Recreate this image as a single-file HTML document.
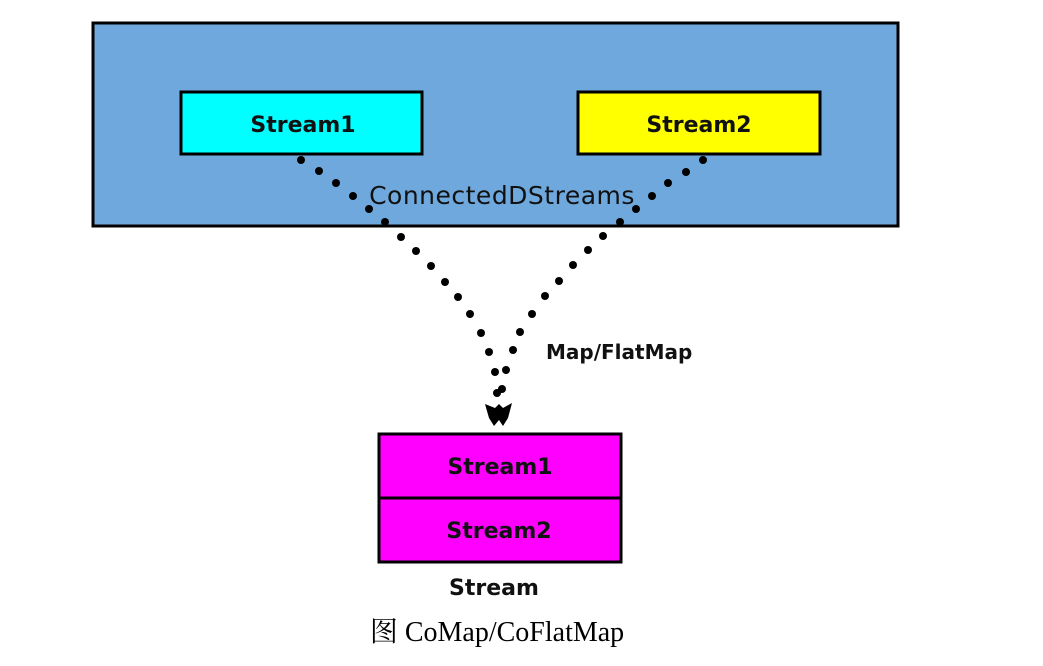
<!DOCTYPE html>
<html><head><style>html,body{margin:0;padding:0;background:#fff;}svg{display:block}</style></head>
<body>
<svg width="1043" height="666" viewBox="0 0 1043 666" xmlns="http://www.w3.org/2000/svg">
<rect x="93" y="23" width="805" height="203" fill="#6fa8dc" stroke="#000" stroke-width="3"/>
<rect x="181" y="92" width="241" height="62" fill="#00ffff" stroke="#000" stroke-width="3"/>
<rect x="578" y="92" width="242" height="62" fill="#ffff00" stroke="#000" stroke-width="3"/>
<g font-family="'DejaVu Sans','Liberation Sans',sans-serif" font-weight="bold" font-size="22" fill="#111" text-anchor="middle">
<text x="303" y="132">Stream1</text>
<text x="699" y="132">Stream2</text>
</g>
<text x="502" y="204" font-family="'DejaVu Sans','Liberation Sans',sans-serif" font-size="25" letter-spacing="0.5" fill="#111" text-anchor="middle">ConnectedDStreams</text>
<g fill="#000">
<circle cx="301" cy="160" r="4"/><circle cx="319" cy="171" r="4"/><circle cx="336" cy="183" r="4"/><circle cx="353" cy="196" r="4"/><circle cx="369" cy="209" r="4"/><circle cx="385" cy="222" r="4"/><circle cx="401" cy="237" r="4"/><circle cx="416" cy="251" r="4"/><circle cx="431" cy="266" r="4"/><circle cx="445" cy="282" r="4"/><circle cx="458" cy="297" r="4"/><circle cx="470" cy="314" r="4"/><circle cx="481" cy="333" r="4"/><circle cx="489" cy="352" r="4"/><circle cx="495" cy="372" r="4"/><circle cx="497" cy="393" r="4"/>
<circle cx="703" cy="160" r="4"/><circle cx="686" cy="172" r="4"/><circle cx="668" cy="183" r="4"/><circle cx="652" cy="196" r="4"/><circle cx="636" cy="209" r="4"/><circle cx="620" cy="222" r="4"/><circle cx="603" cy="236" r="4"/><circle cx="588" cy="250" r="4"/><circle cx="573" cy="265" r="4"/><circle cx="559" cy="281" r="4"/><circle cx="545" cy="296" r="4"/><circle cx="532" cy="314" r="4"/><circle cx="520" cy="332" r="4"/><circle cx="513" cy="350" r="4"/><circle cx="506" cy="370" r="4"/><circle cx="502" cy="389" r="4"/>
<path d="M485 404 L495 408 L499 404 L503 408 L512 403 L508 418 L503 426 L499 420 L494 426 L489 418 Z"/>
</g>
<text x="546" y="359" font-family="'DejaVu Sans','Liberation Sans',sans-serif" font-weight="bold" font-size="20" fill="#111">Map/FlatMap</text>
<rect x="379" y="434" width="242" height="64" fill="#ff00ff" stroke="#000" stroke-width="3"/>
<rect x="379" y="498" width="242" height="64" fill="#ff00ff" stroke="#000" stroke-width="3"/>
<g font-family="'DejaVu Sans','Liberation Sans',sans-serif" font-weight="bold" font-size="22" fill="#111" text-anchor="middle">
<text x="500" y="474">Stream1</text>
<text x="499" y="538">Stream2</text>
<text x="494" y="595">Stream</text>
</g>
<text x="497" y="641" font-family="'Liberation Serif','Noto Serif CJK SC',serif" font-size="28" fill="#000" text-anchor="middle">图  CoMap/CoFlatMap</text>
</svg>
</body></html>
